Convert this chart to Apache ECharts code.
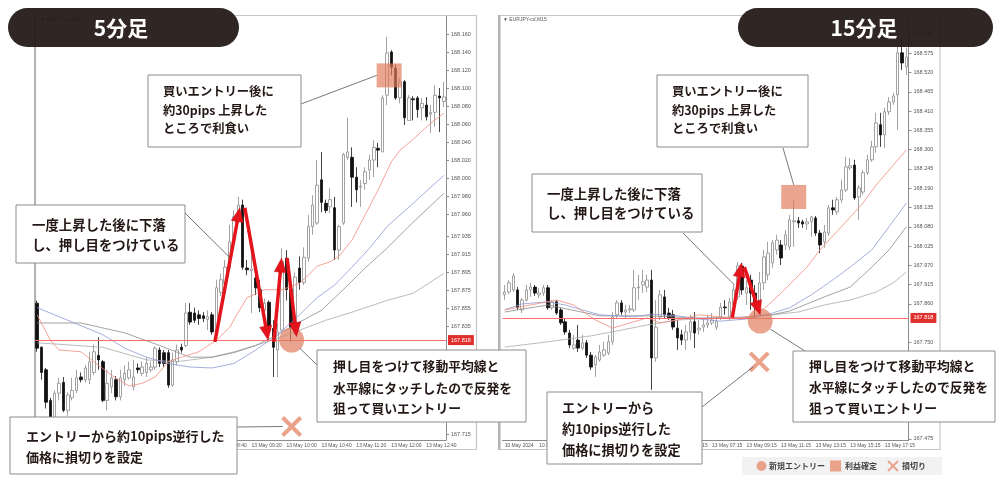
<!DOCTYPE html>
<html><head><meta charset="utf-8">
<script src="https://cdn.jsdelivr.net/npm/echarts@6.0.0/dist/echarts.min.js"></script>
<style>html,body{margin:0;padding:0;background:#fff}#main{width:1000px;height:483px}</style>
</head><body><div id="main"></div>
<script>
// ---------- DATA ----------
const m5Times = ["13 May 05:15","13 May 05:20","13 May 05:25","13 May 05:30","13 May 05:35","13 May 05:40","13 May 05:45","13 May 05:50","13 May 05:55","13 May 06:00","13 May 06:05","13 May 06:10","13 May 06:15","13 May 06:20","13 May 06:25","13 May 06:30","13 May 06:35","13 May 06:40","13 May 06:45","13 May 06:50","13 May 06:55","13 May 07:00","13 May 07:05","13 May 07:10","13 May 07:15","13 May 07:20","13 May 07:25","13 May 07:30","13 May 07:35","13 May 07:40","13 May 07:45","13 May 07:50","13 May 07:55","13 May 08:00","13 May 08:05","13 May 08:10","13 May 08:15","13 May 08:20","13 May 08:25","13 May 08:30","13 May 08:35","13 May 08:40","13 May 08:45","13 May 08:50","13 May 08:55","13 May 09:00","13 May 09:05","13 May 09:10","13 May 09:15","13 May 09:20","13 May 09:25","13 May 09:30","13 May 09:35","13 May 09:40","13 May 09:45","13 May 09:50","13 May 09:55","13 May 10:00","13 May 10:05","13 May 10:10","13 May 10:15","13 May 10:20","13 May 10:25","13 May 10:30","13 May 10:35","13 May 10:40","13 May 10:45","13 May 10:50","13 May 10:55","13 May 11:00","13 May 11:05","13 May 11:10","13 May 11:15","13 May 11:20","13 May 11:25","13 May 11:30","13 May 11:35","13 May 11:40","13 May 11:45","13 May 11:50","13 May 11:55","13 May 12:00","13 May 12:05","13 May 12:10","13 May 12:15","13 May 12:20","13 May 12:25","13 May 12:30","13 May 12:35","13 May 12:40","13 May 12:45","13 May 12:50","13 May 12:55","13 May 13:00"];
const m15Times = ["10 May 19:15","10 May 19:30","10 May 19:45","10 May 20:00","10 May 20:15","10 May 20:30","10 May 20:45","10 May 21:00","10 May 21:15","10 May 21:30","10 May 21:45","10 May 22:00","10 May 22:15","10 May 22:30","10 May 22:45","10 May 23:00","10 May 23:15","10 May 23:30","10 May 23:45","13 May 00:00","13 May 00:15","13 May 00:30","13 May 00:45","13 May 01:00","13 May 01:15","13 May 01:30","13 May 01:45","13 May 02:00","13 May 02:15","13 May 02:30","13 May 02:45","13 May 03:00","13 May 03:15","13 May 03:30","13 May 03:45","13 May 04:00","13 May 04:15","13 May 04:30","13 May 04:45","13 May 05:00","13 May 05:15","13 May 05:30","13 May 05:45","13 May 06:00","13 May 06:15","13 May 06:30","13 May 06:45","13 May 07:00","13 May 07:15","13 May 07:30","13 May 07:45","13 May 08:00","13 May 08:15","13 May 08:30","13 May 08:45","13 May 09:00","13 May 09:15","13 May 09:30","13 May 09:45","13 May 10:00","13 May 10:15","13 May 10:30","13 May 10:45","13 May 11:00","13 May 11:15","13 May 11:30","13 May 11:45","13 May 12:00","13 May 12:15","13 May 12:30","13 May 12:45","13 May 13:00","13 May 13:15","13 May 13:30","13 May 13:45","13 May 14:00","13 May 14:15","13 May 14:30","13 May 14:45","13 May 15:00","13 May 15:15","13 May 15:30","13 May 15:45","13 May 16:00","13 May 16:15","13 May 16:30","13 May 16:45","13 May 17:00","13 May 17:15","13 May 17:30","13 May 17:45","13 May 18:00","13 May 18:15","13 May 18:30"];
const m15FirstLabel = "10 May 2024";

// [open, close, low, high]
const m5Candles = [
[167.861,167.811,167.807,167.864],[167.812,167.784,167.776,167.813],[167.787,167.751,167.744,167.789],[167.753,167.733,167.726,167.756],
[167.733,167.761,167.729,167.764],[167.761,167.772,167.753,167.778],[167.773,167.742,167.740,167.779],[167.742,167.759,167.736,167.762],
[167.756,167.764,167.753,167.778],[167.764,167.778,167.761,167.787],[167.779,167.776,167.773,167.784],[167.776,167.789,167.773,167.792],
[167.776,167.796,167.771,167.807],[167.784,167.807,167.781,167.815],[167.803,167.798,167.787,167.823],[167.796,167.753,167.751,167.798],
[167.753,167.772,167.742,167.787],[167.768,167.778,167.761,167.787],[167.776,167.757,167.753,167.780],[167.757,167.778,167.753,167.787],
[167.776,167.783,167.769,167.792],[167.778,167.787,167.776,167.796],[167.768,167.779,167.764,167.798],[167.789,167.787,167.783,167.794],
[167.783,167.790,167.780,167.796],[167.784,167.794,167.779,167.801],[167.787,167.790,167.784,167.796],[167.790,167.811,167.787,167.813],
[167.809,167.794,167.790,167.812],[167.806,167.794,167.790,167.809],[167.806,167.770,167.767,167.809],[167.770,167.798,167.768,167.806],
[167.796,167.809,167.792,167.815],[167.812,167.809,167.806,167.816],[167.814,167.850,167.812,167.861],[167.851,167.840,167.837,167.861],
[167.850,167.842,167.839,167.856],[167.848,167.844,167.837,167.853],[167.847,167.844,167.840,167.851],[167.843,167.846,167.831,167.853],
[167.848,167.829,167.826,167.851],[167.828,167.878,167.820,167.887],[167.873,167.887,167.869,167.894],[167.883,167.901,167.880,167.909],
[167.900,167.929,167.898,167.948],[167.931,167.957,167.926,167.964],[167.957,167.970,167.953,167.979],[167.970,167.901,167.898,167.976],
[167.900,167.898,167.892,167.909],[167.897,167.899,167.850,167.918],[167.889,167.878,167.870,167.898],[167.876,167.856,167.851,167.887],
[167.853,167.861,167.848,167.866],[167.862,167.831,167.828,167.864],[167.833,167.812,167.779,167.842],[167.809,167.829,167.779,167.839],
[167.831,167.907,167.829,167.922],[167.911,167.876,167.864,167.920],[167.876,167.834,167.818,167.881],[167.834,167.890,167.826,167.895],
[167.900,167.884,167.876,167.913],[167.884,167.912,167.881,167.923],[167.911,167.946,167.907,167.959],[167.946,167.970,167.937,167.981],
[167.950,167.992,167.948,168.020],[167.998,167.973,167.962,168.029],[167.972,167.964,167.961,167.976],[167.968,167.976,167.961,167.989],
[167.967,167.920,167.909,167.979],[167.920,167.946,167.909,167.948],[167.950,168.026,167.948,168.028],[168.023,168.029,168.020,168.067],
[168.023,168.001,167.968,168.034],[168.001,167.987,167.973,168.012],[167.990,167.991,167.968,167.998],[167.994,168.007,167.987,168.012],
[168.009,168.020,167.998,168.026],[168.020,168.034,168.001,168.042],[168.033,168.031,168.012,168.039],[168.029,168.089,168.029,168.092],
[168.092,168.139,168.081,168.157],[168.140,168.123,168.114,168.142],[168.122,168.089,168.087,168.126],[168.089,168.107,168.083,168.111],
[168.107,168.067,168.059,168.109],[168.064,168.089,168.064,168.092],[168.088,168.087,168.064,168.091],[168.089,168.076,168.067,168.091],
[168.078,168.083,168.064,168.089],[168.081,168.068,168.064,168.090],[168.071,168.073,168.050,168.081],[168.073,168.092,168.057,168.103],
[168.091,168.089,168.051,168.100],[168.085,168.090,168.079,168.107]
];
const m15Candles = [
[167.886,167.894,167.871,167.914],[167.894,167.920,167.888,167.928],[167.900,167.940,167.894,167.948],[167.900,167.849,167.843,167.908],
[167.843,167.871,167.834,167.877],[167.871,167.900,167.866,167.914],[167.900,167.908,167.880,167.920],[167.908,167.891,167.883,167.914],
[167.886,167.891,167.877,167.906],[167.891,167.906,167.883,167.914],[167.906,167.849,167.843,167.914],[167.849,167.866,167.843,167.871],
[167.866,167.834,167.829,167.871],[167.843,167.806,167.800,167.849],[167.809,167.780,167.772,167.820],[167.777,167.743,167.734,167.786],
[167.734,167.743,167.729,167.772],[167.757,167.734,167.723,167.800],[167.734,167.749,167.729,167.772],[167.749,167.714,167.706,167.757],
[167.714,167.680,167.672,167.723],[167.686,167.709,167.652,167.714],[167.700,167.723,167.695,167.743],[167.714,167.729,167.709,167.752],
[167.720,167.752,167.714,167.772],[167.752,167.823,167.743,167.837],[167.829,167.863,167.820,167.871],[167.863,167.837,167.829,167.871],
[167.837,167.843,167.820,167.857],[167.843,167.846,167.834,167.857],[167.843,167.906,167.837,167.957],[167.906,167.908,167.871,167.943],
[167.914,167.923,167.891,167.957],[167.908,167.928,167.894,167.943],[167.928,167.706,167.615,167.957],[167.706,167.794,167.695,167.871],
[167.823,167.886,167.814,167.900],[167.880,167.829,167.820,167.900],[167.834,167.820,167.814,167.849],[167.829,167.794,167.786,167.843],
[167.791,167.763,167.729,167.814],[167.772,167.757,167.743,167.786],[167.757,167.780,167.729,167.800],[167.780,167.809,167.757,167.829],
[167.809,167.777,167.734,167.837],[167.786,167.791,167.772,167.814],[167.794,167.800,167.780,167.820],[167.800,167.806,167.791,167.829],
[167.806,167.814,167.800,167.834],[167.794,167.809,167.786,167.820],[167.823,167.851,167.814,167.863],[167.851,167.849,167.829,167.871],
[167.823,167.866,167.814,167.877],[167.857,167.900,167.829,167.914],[167.880,167.968,167.871,167.980],[167.968,167.900,167.886,167.977],
[167.891,167.906,167.857,167.928],[167.928,167.891,167.843,167.943],[167.891,167.857,167.820,167.914],[167.857,167.920,167.837,167.951],
[167.920,167.994,167.900,168.014],[167.943,168.005,167.928,168.037],[167.977,168.034,167.963,168.042],[168.014,168.042,168.000,168.057],
[168.028,167.991,167.971,168.042],[168.028,168.057,168.014,168.071],[168.023,168.100,168.014,168.114],[168.094,168.097,168.023,168.157],
[168.097,168.091,168.077,168.108],[168.094,168.088,168.077,168.100],[168.088,168.094,168.071,168.105],[168.094,168.108,168.051,168.111],
[168.105,168.062,168.054,168.111],[168.062,168.028,168.005,168.071],[168.037,168.065,168.020,168.085],[168.062,168.134,168.054,168.142],
[168.134,168.128,168.114,168.157],[168.122,168.157,168.114,168.165],[168.157,168.185,168.148,168.214],[168.185,168.251,168.179,168.279],
[168.248,168.254,168.242,168.276],[168.256,168.162,168.157,168.271],[168.165,168.191,168.100,168.199],[168.179,168.234,168.171,168.242],
[168.234,168.271,168.228,168.285],[168.271,168.308,168.265,168.325],[168.308,168.376,168.291,168.405],[168.371,168.342,168.308,168.405],
[168.342,168.408,168.305,168.419],[168.408,168.436,168.399,168.450],[168.436,168.453,168.428,168.462],[168.456,168.576,168.356,168.599],
[168.576,168.547,168.527,168.613],[168.536,168.564,168.513,168.590]
];

// moving averages, read as [bar index, price]
const m5MaRed = [[0,167.848],[3,167.820],[5,167.809],[10,167.807],[14,167.792],[17,167.781],[21,167.769],[24,167.772],[27,167.779],[30,167.796],[33,167.801],[37,167.807],[41,167.820],[44,167.834],[46,167.851],[48,167.867],[52,167.876],[56,167.876],[60,167.883],[62,167.892],[64,167.902],[67,167.907],[69,167.913],[72,167.931],[75,167.959],[78,167.987],[81,168.018],[83,168.031],[86,168.043],[90,168.061],[93,168.072]];
const m5MaBlue = [[0,167.856],[8,167.840],[15,167.826],[20,167.811],[25,167.801],[30,167.794],[35,167.790],[40,167.789],[45,167.794],[50,167.809],[55,167.826],[60,167.848],[64,167.867],[68,167.881],[72,167.901],[76,167.922],[80,167.946],[86,167.972],[93,168.003]];
const m5MaGrayA = [[0,167.839],[10,167.839],[20,167.828],[28,167.814],[35,167.801],[40,167.801],[45,167.806],[50,167.814],[55,167.826],[60,167.840],[65,167.853],[70,167.876],[75,167.900],[80,167.922],[86,167.951],[93,167.983]];
const m5MaGrayB = [[0,167.817],[15,167.812],[25,167.798],[32,167.796],[40,167.801],[45,167.807],[50,167.814],[55,167.822],[60,167.831],[66,167.842],[72,167.851],[80,167.864],[86,167.872],[93,167.894]];
const m15MaRed = [[0,167.843],[6,167.857],[12,167.871],[16,167.857],[21,167.814],[25,167.791],[29,167.806],[33,167.820],[36,167.806],[40,167.814],[45,167.829],[50,167.823],[54,167.820],[58,167.826],[61,167.857],[64,167.891],[67,167.928],[70,167.965],[73,168.014],[76,168.054],[79,168.094],[83,168.148],[86,168.199],[89,168.242],[93,168.299]];
const m15MaBlue = [[0,167.843],[4,167.860],[10,167.866],[14,167.857],[22,167.829],[30,167.823],[34,167.831],[40,167.826],[45,167.817],[50,167.811],[56,167.817],[62,167.834],[66,167.849],[71,167.886],[75,167.920],[80,167.965],[85,168.014],[89,168.080],[93,168.148]];
const m15MaGrayA = [[0,167.837],[10,167.857],[22,167.826],[33,167.826],[45,167.820],[55,167.820],[62,167.829],[66,167.840],[74,167.880],[80,167.908],[85,167.965],[89,168.014],[93,168.080]];
const m15MaGrayB = [[0,167.737],[10,167.752],[20,167.769],[26,167.783],[33,167.800],[40,167.814],[48,167.820],[55,167.823],[62,167.829],[68,167.837],[74,167.857],[80,167.871],[86,167.894],[90,167.920],[93,167.951]];

const m5Ticks = [168.160,168.140,168.120,168.100,168.080,168.060,168.040,168.020,168.000,167.980,167.960,167.935,167.915,167.895,167.875,167.855,167.835,167.795,167.775,167.755,167.735,167.715];
const m15Ticks = [168.630,168.575,168.520,168.465,168.410,168.355,168.300,168.245,168.190,168.135,168.080,168.025,167.970,167.915,167.860,167.750,167.695,167.640,167.585,167.530,167.475];
const entryPrice = 167.818;

// trade annotation anchors [bar index, price]
const m5Entry = [58.2, 167.820], m5Profit = [80.5, 168.114], m5Stop = [58.2, 167.724];
const m5Swing = [[40.64,167.818],[46.35,167.967],[47.49,167.967],[52.82,167.820],[54.13,167.818],[55.89,167.911],[57.17,167.911],[59.32,167.824]];
const m15Entry = [59.17, 167.811], m15Profit = [66.93, 168.165], m15Stop = [58.93, 167.695];
const m15Swing = [[52.7,167.821],[54.86,167.977],[55.5,167.965],[59.17,167.829]];

// ---------- CHART ----------
const AXC = '#8c8c8c';
function xAxisCfg(g, cats, mod, first) {
  const fn = (i) => i % 8 === mod;
  return {
    type: 'category', gridIndex: g, data: cats, boundaryGap: true,
    axisLine: {lineStyle: {color: AXC, width: 1}},
    axisTick: {interval: fn, alignWithLabel: true, length: 3, lineStyle: {color: AXC}},
    axisLabel: {interval: fn, align: 'left', fontSize: 5, color: '#555', margin: 3, fontFamily: 'Liberation Sans',
      formatter: (v, i) => (first && i === 0) ? first : v},
    splitLine: {show: false}
  };
}
function yAxisCfg(g, min, max, ticks) {
  return {
    type: 'value', gridIndex: g, position: 'right', min: min, max: max, scale: true,
    axisLine: {show: true, lineStyle: {color: AXC}},
    axisTick: {show: true, customValues: ticks, length: 3, lineStyle: {color: AXC}},
    axisLabel: {customValues: ticks, formatter: v => Number(v).toFixed(3), fontSize: 5.5, color: '#555', margin: 5, fontFamily: 'Liberation Sans'},
    splitLine: {show: false}
  };
}
function candle(g, data) {
  return {
    type: 'candlestick', xAxisIndex: g, yAxisIndex: g, data: data, barWidth: 3, silent: true, z: 3,
    itemStyle: {color: '#ffffff', color0: '#111111', borderColor: '#8c8c8c', borderColor0: '#111111', borderWidth: 0.8},
    markLine: {
      symbol: 'none', silent: true, animation: false,
      data: [{yAxis: entryPrice}],
      lineStyle: {color: '#ff6a6a', width: 1, type: 'solid'},
      label: {show: true, position: 'end', formatter: () => entryPrice.toFixed(3), color: '#fff', backgroundColor: '#e0302e',
        fontSize: 5.5, padding: [2, 3], distance: 2, fontFamily: 'Liberation Sans'}
    }
  };
}
function ma(g, data, color) {
  return {type: 'line', xAxisIndex: g, yAxisIndex: g, data: data, symbol: 'none', silent: true, z: 4,
    lineStyle: {color: color, width: 0.8}};
}
const RED = '#f28b7e', BLUE = '#8e99d2', GA = '#8c8c8c', GB = '#a9a9a9';

const option = {
  animation: false,
  backgroundColor: '#ffffff',
  grid: [
    {left: 35, top: 16, width: 411, height: 424, outerBoundsMode: 'none'},
    {left: 502.5, top: 16, width: 406, height: 424, outerBoundsMode: 'none'}
  ],
  xAxis: [xAxisCfg(0, m5Times, 1, null), xAxisCfg(1, m15Times, 0, m15FirstLabel)],
  yAxis: [yAxisCfg(0, 167.709, 168.180, m5Ticks), yAxisCfg(1, 167.472, 168.681, m15Ticks)],
  series: [
    candle(0, m5Candles),
    ma(0, m5MaGrayB, GB), ma(0, m5MaGrayA, GA), ma(0, m5MaBlue, BLUE), ma(0, m5MaRed, RED),
    candle(1, m15Candles),
    ma(1, m15MaGrayB, GB), ma(1, m15MaGrayA, GA), ma(1, m15MaBlue, BLUE), ma(1, m15MaRed, RED)
  ]
};

const chart = echarts.init(document.getElementById('main'), null, {renderer: 'canvas'});
chart.setOption(option);

// ---------- ANNOTATIONS ----------
function P(g, pt) {
  const idx = pt[0], price = pt[1];
  const a = Math.floor(idx), b = Math.ceil(idx), f = idx - a;
  const pa = chart.convertToPixel({xAxisIndex: g, yAxisIndex: g}, [a, price]);
  const pb = chart.convertToPixel({xAxisIndex: g, yAxisIndex: g}, [b, price]);
  return [pa[0] + (pb[0] - pa[0]) * f, pa[1]];
}
const JP = '"Noto Sans CJK JP","Noto Sans CJK SC",sans-serif';
const SALMON = 'rgba(222,122,90,0.68)';
const SALMON_SOLID = '#eba28b';
const els = [];
function add(e) { e.silent = true; els.push(e); }
function rect(x, y, w, h, style, z, r) { add({type: 'rect', z: z, shape: {x: x, y: y, width: w, height: h, r: r || 0}, style: style}); }
function line(x1, y1, x2, y2, stroke, lw, z) { add({type: 'line', z: z, shape: {x1: x1, y1: y1, x2: x2, y2: y2}, style: {stroke: stroke, lineWidth: lw}}); }
function text(x, y, t, size, weight, fill, z, align, family) {
  add({type: 'text', z: z, x: x, y: y, style: {text: t, fontSize: size, fontWeight: weight, fontFamily: family || JP, fill: fill,
    textAlign: align || 'left', textVerticalAlign: 'middle', align: align || 'left', verticalAlign: 'middle'}});
}
function cross(cx, cy, s, lw, color, z) {
  line(cx - s, cy - s, cx + s, cy + s, color, lw, z);
  line(cx - s, cy + s, cx + s, cy - s, color, lw, z);
}
function arrow(g, a, b) {
  const p1 = P(g, a), p2 = P(g, b);
  const dx = p2[0] - p1[0], dy = p2[1] - p1[1], L = Math.hypot(dx, dy), ux = dx / L, uy = dy / L;
  const hl = 14, hw = 6;
  const bx = p2[0] - ux * hl, by = p2[1] - uy * hl;
  line(p1[0], p1[1], bx + ux * 2, by + uy * 2, '#e3141b', 3.5, 45);
  add({type: 'polygon', z: 45, shape: {points: [[p2[0], p2[1]], [bx - uy * hw, by + ux * hw], [bx + uy * hw, by - ux * hw]]},
    style: {fill: '#e3141b', stroke: '#c20d12', lineWidth: 0.5}});
}
function box(x, y, w, h, lines, tx, ys, fs) {
  rect(x, y, w, h, {fill: '#ffffff', stroke: '#8c8c8c', lineWidth: 1}, 55);
  lines.forEach((t, k) => text(tx, ys[k], t, fs, 'bold', '#231815', 56));
}

// frames
rect(35.5, 15.5, 441, 434, {fill: 'none', stroke: '#c6c6c6', lineWidth: 1.2}, 0);
rect(34, 15, 2, 435, {fill: '#b3b3b3'}, 0);
rect(499.5, 15.5, 440.5, 434, {fill: 'none', stroke: '#c6c6c6', lineWidth: 1.2}, 0);
rect(498, 15, 2.5, 435, {fill: '#b3b3b3'}, 0);
text(40, 20, '▼ EURJPY-cd,M5', 5, 'normal', '#555', 1, 'left', 'Liberation Sans');
text(503, 20, '▼ EURJPY-cd,M15', 5, 'normal', '#555', 1, 'left', 'Liberation Sans');

// ---- left (5 min) ----
arrow(0, m5Swing[0], m5Swing[1]);
arrow(0, m5Swing[2], m5Swing[3]);
arrow(0, m5Swing[4], m5Swing[5]);
arrow(0, m5Swing[6], m5Swing[7]);
const lc = P(0, m5Entry), ls = P(0, m5Profit), lx = P(0, m5Stop);
add({type: 'circle', z: 40, shape: {cx: lc[0], cy: lc[1], r: 12.5}, style: {fill: SALMON}});
rect(ls[0] - 12.5, ls[1] - 12, 25, 24, {fill: SALMON}, 40);
cross(lx[0], lx[1], 9, 4, SALMON_SOLID, 40);
const lB = P(0, [44, 167.912]);
line(301, 104, ls[0] - 12.5, ls[1], '#555', 0.8, 50);
line(185, 213, lB[0], lB[1], '#555', 0.8, 50);
line(lc[0] + 8, lc[1] + 8, 317, 365, '#555', 0.8, 50);
line(237, 427, lx[0] - 9, lx[1], '#555', 0.8, 50);
box(148, 75, 153, 72, ['買いエントリー後に', '約30pips 上昇した', 'ところで利食い'], 163, [91, 110, 128], 12.3);
box(16, 205, 169, 58, ['一度上昇した後に下落', 'し、押し目をつけている'], 32, [225, 245], 13.4);
box(317, 350, 209, 72, ['押し目をつけて移動平均線と', '水平線にタッチしたので反発を', '狙って買いエントリー'], 333, [366, 388, 408], 12.8);
box(10, 417, 227, 57, ['エントリーから約10pips逆行した', '価格に損切りを設定'], 26, [436, 457], 13);

// ---- right (15 min) ----
arrow(1, m15Swing[0], m15Swing[1]);
arrow(1, m15Swing[2], m15Swing[3]);
const rc = P(1, m15Entry), rs = P(1, m15Profit), rx = P(1, m15Stop);
add({type: 'circle', z: 40, shape: {cx: rc[0], cy: rc[1], r: 12.5}, style: {fill: SALMON}});
rect(rs[0] - 12.5, rs[1] - 12, 25, 24, {fill: SALMON}, 40);
cross(rx[0], rx[1], 9, 4, SALMON_SOLID, 40);
const rF = P(1, [53.2, 167.914]);
line(783, 148, rs[0], rs[1] - 12, '#555', 0.8, 50);
line(683, 233, rF[0], rF[1], '#555', 0.8, 50);
line(rx[0] - 6, rx[1] + 5, 702, 407, '#555', 0.8, 50);
line(rc[0] + 10, rc[1] + 8, 805, 351, '#555', 0.8, 50);
box(657, 75, 151, 72, ['買いエントリー後に', '約30pips 上昇した', 'ところで利食い'], 672, [91, 110, 128], 12.3);
box(532, 174, 170, 58, ['一度上昇した後に下落', 'し、押し目をつけている'], 547, [194, 213], 13.4);
box(547, 392, 155, 72, ['エントリーから', '約10pips逆行した', '価格に損切りを設定'], 562, [408, 429, 450], 13.2);
box(793, 351, 202, 71, ['押し目をつけて移動平均線と', '水平線にタッチしたので反発を', '狙って買いエントリー'], 809, [366, 387, 408], 12.8);

// legend
rect(742, 457, 200, 18, {fill: '#f2f2f2'}, 30);
add({type: 'circle', z: 31, shape: {cx: 761.5, cy: 466, r: 5}, style: {fill: SALMON_SOLID}});
text(769, 466, '新規エントリー', 8, 'bold', '#444', 31);
rect(830, 460.5, 11, 11, {fill: SALMON_SOLID}, 31);
text(845, 466, '利益確定', 8, 'bold', '#444', 31);
cross(893, 466, 5, 2, SALMON_SOLID, 31);
text(902, 466, '損切り', 8, 'bold', '#444', 31);

// title bars
rect(8, 8, 231, 39, {fill: '#231815', opacity: 0.94}, 60, 19.5);
text(121, 28, '5分足', 21, 'bold', '#ffffff', 61, 'center');
rect(738, 8, 255, 39, {fill: '#231815', opacity: 0.94}, 60, 19.5);
text(864, 28, '15分足', 21, 'bold', '#ffffff', 61, 'center');

chart.setOption({graphic: {elements: els}});
</script></body></html>
